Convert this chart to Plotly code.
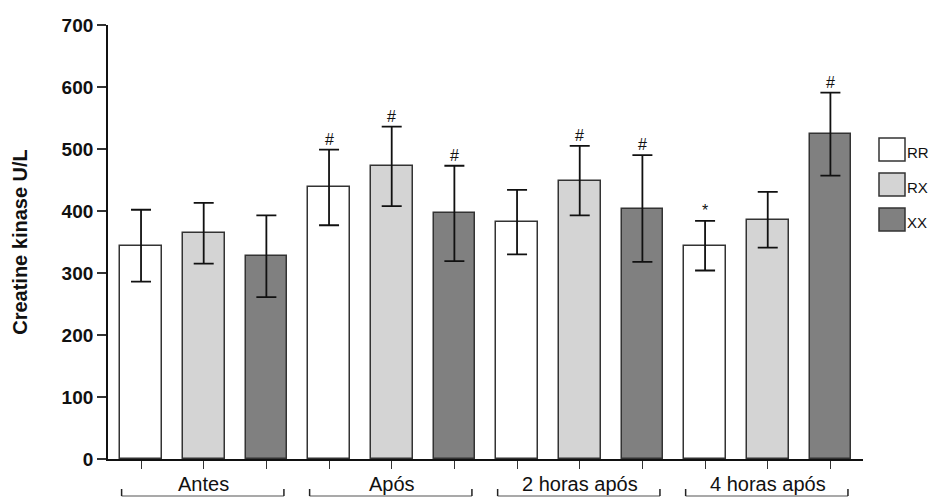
import plotly.graph_objects as go

# ---- data ----
groups = ["Antes", "Após", "2 horas após", "4 horas após"]
series = ["RR", "RX", "XX"]
rr_mean = [344, 438, 382, 344]
rr_err = [58, 61, 52, 40]
rx_mean = [364, 472, 449, 386]
rx_err = [49, 64, 56, 45]
xx_mean = [327, 396, 404, 524]
xx_err = [66, 77, 86, 67]
rr_mark = ["", "#", "", "*"]
rx_mark = ["", "#", "#", ""]
xx_mark = ["", "#", "#", "#"]
y_ticks = [0, 100, 200, 300, 400, 500, 600, 700]

means = [rr_mean, rx_mean, xx_mean]
errs = [rr_err, rx_err, xx_err]
marks = [rr_mark, rx_mark, xx_mark]
colors = ["#ffffff", "#d4d4d4", "#808080"]

FONT = "Liberation Sans, Arial, sans-serif"
W, H = 936, 497
L, R, T, B = 108, 73, 25, 38
pw, ph = W - L - R, H - T - B


def px_x(px):
    return (px - L) / pw


def px_y(py):
    return (H - B - py) / ph


fig = go.Figure()
n_s = len(series)
for s, name in enumerate(series):
    xs = [g * n_s + s for g in range(len(groups))]
    fig.add_trace(go.Bar(
        x=xs, y=means[s], name=name, width=0.666,
        marker=dict(color=colors[s], line=dict(color="#333333", width=1.5)),
        error_y=dict(type="data", array=errs[s], visible=True,
                     color="#111111", thickness=1.8, width=10),
        showlegend=False,
    ))
    for g in range(len(groups)):
        if marks[s][g]:
            fig.add_annotation(
                x=xs[g], y=means[s][g] + errs[s][g], text=marks[s][g],
                showarrow=False, yanchor="bottom", yshift=0,
                font=dict(family=FONT, size=16, color="#111111"))

# group labels and brackets
for g, label in enumerate(groups):
    c = g * n_s + 1
    fig.add_annotation(x=c, y=px_y(484), xref="x", yref="paper", text=label,
                       showarrow=False, yanchor="middle",
                       font=dict(family=FONT, size=20, color="#111111"))
    x0, x1 = c - 1.31, c + 1.28
    fig.add_shape(type="line", xref="x", yref="paper", x0=x0, x1=x1,
                  y0=px_y(496), y1=px_y(496), line=dict(color="#555555", width=1.2))
    for xe in (x0, x1):
        fig.add_shape(type="line", xref="x", yref="paper", x0=xe, x1=xe,
                      y0=px_y(496), y1=px_y(489), line=dict(color="#222222", width=1.5))

# legend boxes (custom, larger)
box_tops = [138, 173, 208]
for s, name in enumerate(series):
    y0 = box_tops[s]
    fig.add_shape(type="rect", xref="paper", yref="paper",
                  x0=px_x(879), x1=px_x(905), y0=px_y(y0), y1=px_y(y0 + 23),
                  fillcolor=colors[s], line=dict(color="#333333", width=1.5))
    fig.add_annotation(xref="paper", yref="paper", x=px_x(905), y=px_y(y0 + 14),
                       text=name, showarrow=False, xanchor="left", yanchor="middle",
                       font=dict(family=FONT, size=15, color="#111111"))

fig.update_layout(
    width=W, height=H,
    margin=dict(l=L, r=R, t=T, b=B),
    paper_bgcolor="white", plot_bgcolor="white",
    bargap=0, showlegend=False,
    font=dict(family=FONT, color="#111111"),
)
fig.update_xaxes(
    range=[-0.527, 11.52], tickvals=list(range(len(groups) * n_s)),
    showticklabels=False, ticks="outside", ticklen=8, tickwidth=1.2,
    tickcolor="#333333", showline=True, linecolor="#111111", linewidth=1.8,
    showgrid=False, zeroline=False, fixedrange=True,
)
fig.update_yaxes(
    range=[0, 700], tickvals=y_ticks, ticks="outside", ticklen=9, tickwidth=1.5,
    tickcolor="#333333", showline=True, linecolor="#111111", linewidth=1.8,
    showgrid=False, zeroline=False,
    tickfont=dict(family=FONT, size=19, weight="bold", color="#111111"),
    title=dict(text="Creatine kinase U/L", standoff=29,
               font=dict(family=FONT, size=20, weight="bold", color="#111111")),
)

fig.write_html("out.html")
